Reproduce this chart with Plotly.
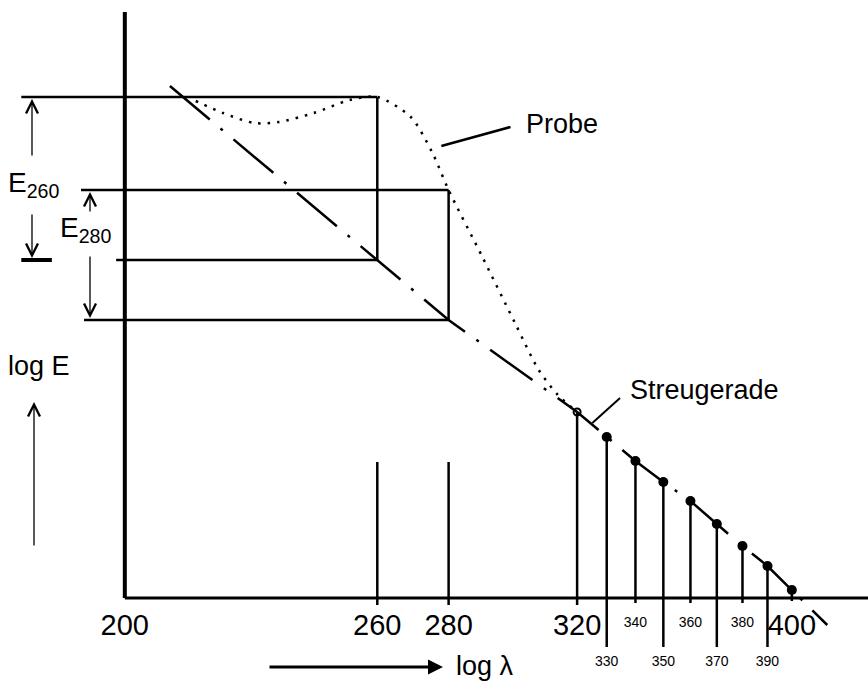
import plotly.graph_objects as go

W, H = 868, 683

# ---------------- data ----------------
lam_major = [200, 260, 280, 320, 400]
lam_major_labels = ["200", "260", "280", "320", "400"]
lam_minor_low = [330, 350, 370, 390]
lam_minor_high = [340, 360, 380]

# log E levels (arbitrary units, baseline = 0)
logE_probe_260 = 5.01
logE_probe_280 = 4.08
logE_scatter_260 = 3.38
logE_scatter_280 = 2.78

# Probe absorbance curve (dotted)
probe_lam = [215.3, 221.5, 228.8, 234.7, 243.4, 252.7, 260, 269.2, 275.2, 280,
             290.0, 300.0, 307.5, 313.7, 320]
probe_logE = [4.97, 4.85, 4.75, 4.76, 4.85, 4.98, 5.01, 4.81, 4.46, 4.08,
              3.41, 2.75, 2.28, 2.03, 1.86]

# measured scatter points (Streugerade)
streu_lam = [320, 330, 340, 350, 360, 370, 380, 390, 400]
streu_logE = [1.86, 1.61, 1.37, 1.16, 0.97, 0.74, 0.52, 0.32, 0.08]
stem_bottom = [-0.07, -0.49, -0.05, -0.49, -0.05, -0.49, -0.05, -0.49, -0.03]

# extrapolated scatter line end points
line_start_lam, line_start_logE = 209.6, 5.12
line_end_lam, line_end_logE = 415.0, -0.27

# helper marks at 260 / 280 on the axis
mark_lam = [260, 280]
mark_top = 1.36
mark_bottom = -0.07

# left ends of the level lines
lev_left = {"p260": 179.6, "s260": 198.2, "p280": 191.1, "s280": 191.7}
bar_lam = [179.6, 185.4]

axis_top_logE = 5.86
xaxis_end_lam = 440

# leader lines for the labels
probe_leader_lam, probe_leader_logE = [277.9, 298.6], [4.52, 4.71]
streu_leader_lam, streu_leader_logE = [325.1, 334.6], [1.75, 2.00]

FONT = "Liberation Sans, Arial, sans-serif"
BLACK = "#000000"

fig = go.Figure()


def seg(x, y, width=2.5, dash="solid", color=BLACK):
    fig.add_trace(go.Scatter(x=x, y=y, mode="lines",
                             line=dict(color=color, width=width, dash=dash),
                             hoverinfo="skip", showlegend=False))


# axes lines
seg([200, 200], [axis_top_logE, 0], width=4)
seg([200, xaxis_end_lam], [0, 0], width=3)

# level lines / rectangles
seg([lev_left["p260"], 260], [logE_probe_260, logE_probe_260])
seg([260, 260], [logE_probe_260, logE_scatter_260])
seg([lev_left["s260"], 260], [logE_scatter_260, logE_scatter_260])
seg(bar_lam, [logE_scatter_260, logE_scatter_260], width=4)
seg([lev_left["p280"], 280], [logE_probe_280, logE_probe_280])
seg([280, 280], [logE_probe_280, logE_scatter_280])
seg([lev_left["s280"], 280], [logE_scatter_280, logE_scatter_280])

# marks at 260 / 280
mx, my = [], []
for l in mark_lam:
    mx += [l, l, None]
    my += [mark_top, mark_bottom, None]
seg(mx, my)

# stems of the scatter points
sx, sy = [], []
for l, top, bot in zip(streu_lam, streu_logE, stem_bottom):
    sx += [l, l, None]
    sy += [top, bot, None]
seg(sx, sy)

# Streugerade (dash-dot), through the read points
line_x = [line_start_lam, 260, 280] + streu_lam + [line_end_lam]
line_y = [line_start_logE, logE_scatter_260, logE_scatter_280] + streu_logE + [line_end_logE]
seg(line_x, line_y, width=2.5, dash="52px,14px,3px,14px")

# Probe curve (dotted)
fig.add_trace(go.Scatter(x=probe_lam, y=probe_logE, mode="lines",
                         line=dict(color=BLACK, width=2.5, dash="2.5px,7px", shape="spline", smoothing=0.8),
                         hoverinfo="skip", showlegend=False))

# scatter point markers
fig.add_trace(go.Scatter(x=streu_lam[1:], y=streu_logE[1:], mode="markers",
                         marker=dict(color=BLACK, size=10),
                         hoverinfo="skip", showlegend=False))
fig.add_trace(go.Scatter(x=streu_lam[:1], y=streu_logE[:1], mode="markers",
                         marker=dict(color=BLACK, size=7, symbol="circle-open", line=dict(width=2)),
                         hoverinfo="skip", showlegend=False))

# leader lines
seg(probe_leader_lam, probe_leader_logE, width=2.5)
seg(streu_leader_lam, streu_leader_logE, width=2)

# tick labels
fig.add_trace(go.Scatter(x=lam_major, y=[-0.30] * len(lam_major), mode="text",
                         text=lam_major_labels, textposition="middle center",
                         textfont=dict(family=FONT, size=29, color=BLACK),
                         hoverinfo="skip", showlegend=False))
fig.add_trace(go.Scatter(x=lam_minor_low, y=[-0.64] * len(lam_minor_low), mode="text",
                         text=[str(v) for v in lam_minor_low], textposition="middle center",
                         textfont=dict(family=FONT, size=14, color=BLACK),
                         hoverinfo="skip", showlegend=False))
fig.add_trace(go.Scatter(x=lam_minor_high, y=[-0.25] * len(lam_minor_high), mode="text",
                         text=[str(v) for v in lam_minor_high], textposition="middle center",
                         textfont=dict(family=FONT, size=14, color=BLACK),
                         hoverinfo="skip", showlegend=False))


def px(xp):
    return xp / W


def py(yp):
    return 1 - yp / H


annotations = []


def label(text, xp, yp, size=27):
    annotations.append(dict(text=text, x=px(xp), y=py(yp), xref="paper", yref="paper",
                            showarrow=False, xanchor="center", yanchor="middle",
                            font=dict(family=FONT, size=size, color=BLACK)))


def varrow(xp, tip, tail):
    annotations.append(dict(text="", x=px(xp), y=tip, xref="paper", yref="y",
                            ax=0, ay=tail, axref="pixel", ayref="y",
                            showarrow=True, arrowhead=5, arrowsize=1.8, arrowwidth=1.3,
                            arrowcolor=BLACK, standoff=0, startstandoff=0))


label("Probe", 562, 124)
label("Streugerade", 704, 390)
label("log E", 39, 366)
label("E<sub>260</sub>", 33, 184, size=28)
label("E<sub>280</sub>", 85, 229, size=28)
label("log λ", 485, 666)

# E260 / E280 arrows
varrow(32, logE_probe_260 - 0.02, 4.41)
varrow(32, logE_scatter_260 + 0.02, 3.85)
varrow(90, logE_probe_280 - 0.02, 3.85)
varrow(90, logE_scatter_280 + 0.02, 3.43)
# log E arrow (pixel offset tail)
annotations.append(dict(text="", x=px(34), y=py(402), xref="paper", yref="paper",
                        ax=0, ay=145, axref="pixel", ayref="pixel",
                        showarrow=True, arrowhead=5, arrowsize=1.8, arrowwidth=1.3,
                        arrowcolor=BLACK, standoff=0, startstandoff=0))
# log lambda arrow
annotations.append(dict(text="", x=px(443), y=py(667), xref="paper", yref="paper",
                        ax=-175, ay=0, axref="pixel", ayref="pixel",
                        showarrow=True, arrowhead=2, arrowsize=1.0, arrowwidth=3,
                        arrowcolor=BLACK, standoff=0, startstandoff=0))

fig.update_layout(
    width=W, height=H,
    margin=dict(l=0, r=0, t=0, b=0),
    paper_bgcolor="white", plot_bgcolor="white",
    showlegend=False,
    xaxis=dict(type="log", range=[2.24470, 2.63643], visible=False, fixedrange=True),
    yaxis=dict(range=[-0.85, 5.98], visible=False, fixedrange=True),
    annotations=annotations,
)

fig.write_html("out.html")
